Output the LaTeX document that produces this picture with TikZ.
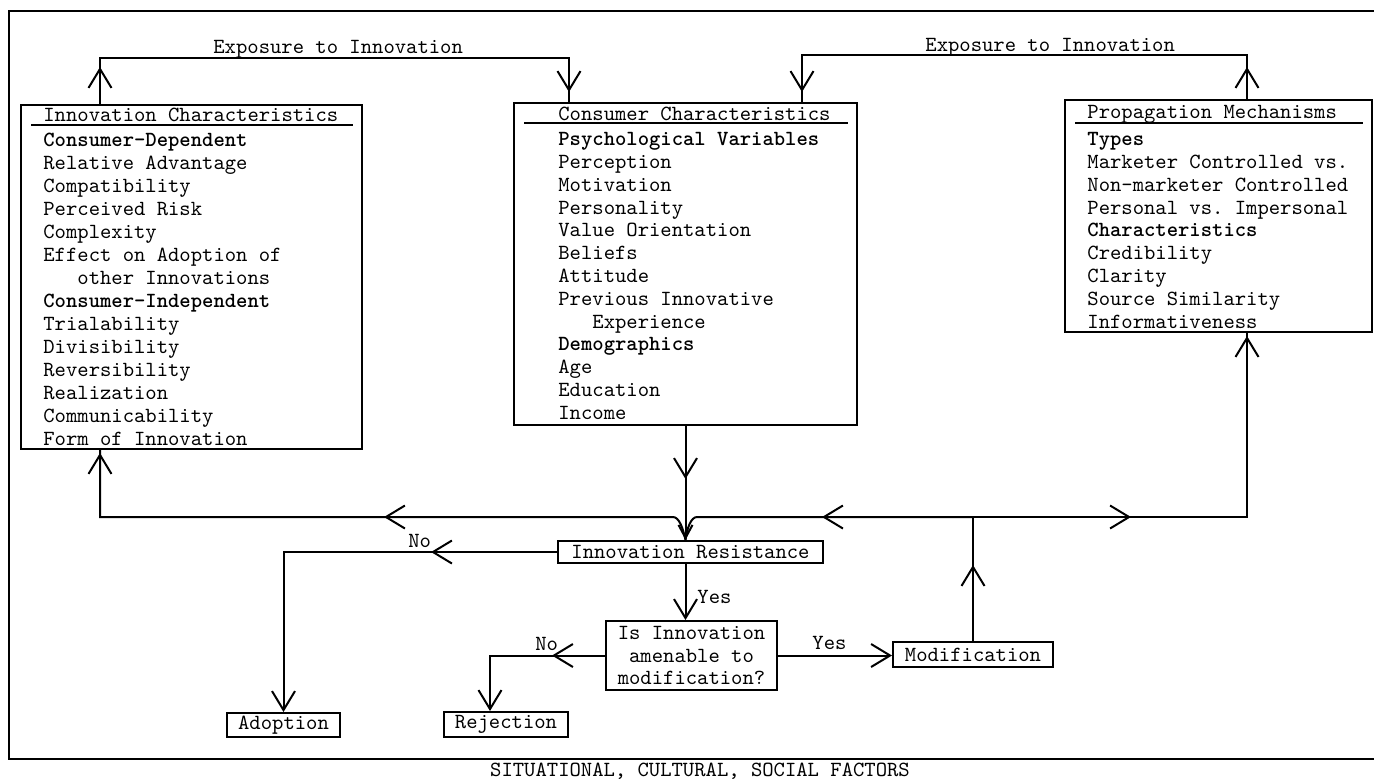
\documentclass[tikz,border=0pt]{standalone}
\usepackage{fontspec}
\usetikzlibrary{arrows.meta,decorations.markings,calc}
\tikzset{
  tfont/.style={font={\ttfamily\frenchspacing\fontsize{10.8}{11.4}\selectfont}},
  box/.style={draw, line width=1pt, inner sep=0pt, tfont},
  body/.style={inner sep=0pt, align=left, anchor=north west, tfont},
  lbl/.style={inner sep=0pt, anchor=base west, tfont},
  conn/.style={line width=1pt},
  ulin/.style={line width=1pt},
  marr/.style={postaction={decorate,decoration={markings,mark=at position #1 with {\arrow{>}}}}},
  sm/.style={-{Straight Barb[length=6.5pt,width=7pt]}}
}
\begin{document}
\begin{tikzpicture}[x=0.5pt,y=-0.5pt,>={Straight Barb[length=9.5pt,width=11.5pt]}]
\useasboundingbox (0,0) rectangle (1374,778);
% outer frame
\draw[line width=1.4pt] (1374,11) -- (9,11) -- (9,759) -- (1374,759);
\node[lbl, anchor=base] (cap) at (700,776) {SITUATIONAL, CULTURAL, SOCIAL FACTORS};

% large boxes
\node[box, minimum width=170.5pt, minimum height=172pt] (lbox) at (191.5,277) {};
\node[box, minimum width=171.5pt, minimum height=161pt] (cbox) at (685.5,264) {};
\node[box, minimum width=153.5pt, minimum height=116pt] (pbox) at (1218.5,216) {};

\node[lbl] (ltitle) at (43,121) {Innovation Characteristics};
\node[lbl] (ctitle) at (558,120) {Consumer Characteristics};
\node[lbl] (ptitle) at (1087,118) {Propagation Mechanisms};
\draw[ulin] ($(lbox.north west)+(11,21)$) -- ($(lbox.north east)+(-10,21)$);
\draw[ulin] ($(cbox.north west)+(11,21)$) -- ($(cbox.north east)+(-10,21)$);
\draw[ulin] ($(pbox.north west)+(11,24)$) -- ($(pbox.north east)+(-10,24)$);

\node[body, font={\ttfamily\frenchspacing\fontsize{10.8}{11.5}\selectfont}] (lbody) at (43,133) {\textbf{Consumer-Dependent}\\
Relative Advantage\\
Compatibility\\
Perceived Risk\\
Complexity\\
Effect on Adoption of\\
\phantom{Eff}other Innovations\\
\textbf{Consumer-Independent}\\
Trialability\\
Divisibility\\
Reversibility\\
Realization\\
Communicability\\
Form of Innovation};

\node[body] (cbody) at (558,132) {\textbf{Psychological Variables}\\
Perception\\
Motivation\\
Personality\\
Value Orientation\\
Beliefs\\
Attitude\\
Previous Innovative\\
\phantom{Pre}Experience\\
\textbf{Demographics}\\
Age\\
Education\\
Income};

\node[body] (pbody) at (1087,132) {\textbf{Types}\\
Marketer Controlled vs.\\
Non-marketer Controlled\\
Personal vs. Impersonal\\
\textbf{Characteristics}\\
Credibility\\
Clarity\\
Source Similarity\\
Informativeness};

% small boxes
\node[box, minimum width=132.5pt, minimum height=11pt] (ir) at (690.5,552) {Innovation Resistance};
\node[box, minimum width=85.5pt, minimum height=34.5pt, align=center] (q) at (691.5,655.5) {Is Innovation\\amenable to\\modification?};
\node[box, minimum width=80pt, minimum height=12.5pt] (mod) at (973,654.5) {Modification};
\node[box, minimum width=56.5pt, minimum height=12pt] (adopt) at (283.5,725) {Adoption};
\node[box, minimum width=62pt, minimum height=12.5pt] (rej) at (506,724.5) {Rejection};

% routing coordinates
\coordinate (e1a) at (100,58);
\coordinate (e1b) at (569,58);
\coordinate (e2a) at (1247,55);
\coordinate (e2b) at (802,55);
\coordinate (bl) at (100,517);
\coordinate (hl) at (673,517);
\coordinate (hr) at (697,517);
\coordinate (br) at (1247,517);
\coordinate (mj) at (mod.north |- bl);
\coordinate (rx) at (490,656);
\coordinate (jn) at (cbox.south |- ir.north);

% exposure connectors
\draw[conn, marr=18.5pt, marr=-5pt] (lbox.north -| e1a) -- (e1a) -- (e1b) -- (cbox.north -| e1b);
\draw[conn, marr=16pt, marr=-5pt] (pbox.north -| e2a) -- (e2a) -- (e2b) -- (cbox.north -| e2b);
\node[lbl] (exp1) at (213,53) {Exposure to Innovation};
\node[lbl] (exp2) at (925,51) {Exposure to Innovation};

% consumer -> resistance
\draw[conn, marr=26.5pt, sm] (cbox.south) -- (jn);
% modification feedback
\draw[conn, marr=38pt] (mod.north) -- (mj);
\draw[conn, marr=75.5pt] (mj) -- (hr) .. controls (691,517) and (687,528) .. (jn);
\draw[conn, marr=-175.5pt, marr=-1.5pt] (jn) .. controls (683,528) and (679,517) .. (hl) -- (bl) -- (lbox.south -| bl);
\draw[conn, marr=79pt, marr=-1.5pt] (mj) -- (br) -- (pbox.south -| br);

% decision flow
\draw[conn, marr=63pt, ->] (ir.west) -- (ir.west -| adopt.north) -- (adopt.north);
\draw[conn, ->] (cbox.south |- ir.south) -- (cbox.south |- q.north);
\draw[conn, marr=26.5pt, ->] (q.west) -- (q.west -| rx) -- (rx |- rej.north);
\draw[conn, ->] (q.east) -- (q.east -| mod.west);

\node[lbl] (no1) at (408,547) {No};
\node[lbl] (yes1) at (697,603) {Yes};
\node[lbl] (no2) at (535,650) {No};
\node[lbl] (yes2) at (812,649) {Yes};
\end{tikzpicture}
\end{document}
